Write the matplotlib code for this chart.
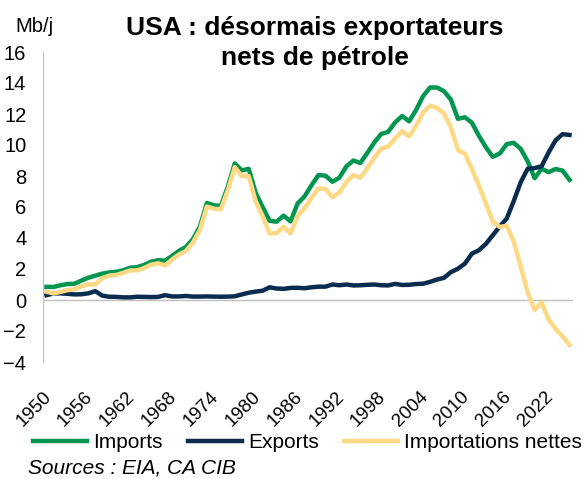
import matplotlib
matplotlib.use('Agg')
import matplotlib.pyplot as plt
import matplotlib.transforms as mtransforms
import numpy as np

## data (Mb/j) ##
years = list(range(1950, 2026))

imports = [0.85, 0.84, 0.95, 1.03, 1.05, 1.25, 1.44, 1.57, 1.70, 1.78,
           1.82, 1.92, 2.08, 2.12, 2.26, 2.47, 2.57, 2.54, 2.84, 3.17,
           3.42, 3.93, 4.74, 6.26, 6.11, 6.06, 7.31, 8.81, 8.36, 8.46,
           6.91, 6.00, 5.11, 5.05, 5.44, 5.07, 6.22, 6.68, 7.40, 8.06,
           8.02, 7.63, 7.89, 8.62, 9.00, 8.84, 9.48, 10.16, 10.71, 10.85,
           11.46, 11.87, 11.53, 12.26, 13.15, 13.71, 13.71, 13.47, 12.92, 11.69,
           11.79, 11.44, 10.60, 9.86, 9.24, 9.45, 10.06, 10.14, 9.75, 8.95,
           7.86, 8.47, 8.25, 8.45, 8.35, 7.75]

exports = [0.31, 0.42, 0.43, 0.40, 0.36, 0.37, 0.43, 0.57, 0.28, 0.21,
           0.20, 0.17, 0.17, 0.21, 0.20, 0.19, 0.20, 0.31, 0.23, 0.23,
           0.26, 0.22, 0.22, 0.23, 0.22, 0.21, 0.22, 0.24, 0.36, 0.47,
           0.54, 0.60, 0.82, 0.74, 0.72, 0.78, 0.79, 0.76, 0.82, 0.86,
           0.86, 1.00, 0.95, 1.00, 0.94, 0.95, 0.98, 1.00, 0.95, 0.94,
           1.04, 0.97, 0.98, 1.03, 1.05, 1.17, 1.32, 1.43, 1.80, 2.02,
           2.35, 2.99, 3.21, 3.62, 4.18, 4.74, 5.26, 6.38, 7.60, 8.47,
           8.51, 8.63, 9.52, 10.30, 10.70, 10.65]

net_imports = [0.54, 0.42, 0.52, 0.63, 0.69, 0.88, 1.01, 1.00, 1.42, 1.57,
               1.62, 1.75, 1.91, 1.91, 2.06, 2.28, 2.37, 2.23, 2.61, 2.94,
               3.16, 3.71, 4.52, 6.03, 5.89, 5.85, 7.09, 8.57, 8.00, 7.99,
               6.37, 5.40, 4.29, 4.31, 4.72, 4.29, 5.43, 5.92, 6.58, 7.20,
               7.16, 6.63, 6.94, 7.62, 8.06, 7.89, 8.50, 9.16, 9.76, 9.91,
               10.42, 10.90, 10.55, 11.23, 12.10, 12.54, 12.39, 12.04, 11.12, 9.67,
               9.44, 8.45, 7.39, 6.24, 5.06, 4.71, 4.80, 3.76, 2.15, 0.48,
               -0.65, -0.16, -1.27, -1.85, -2.35, -2.90]

series_labels = ['Imports', 'Exports', 'Importations nettes']
colors = ['#00964f', '#0a2c4f', '#fdd985']

## figure ##
plt.rcParams['font.family'] = ['Liberation Sans', 'DejaVu Sans']
fig = plt.figure(figsize=(5.86, 4.79), dpi=100)
ax = fig.add_axes([43/586, 1 - 362/479, 530/586, 310/479])

x = np.arange(len(years))
for vals, lab, col in zip([imports, exports, net_imports], series_labels, colors):
    ax.plot(x, vals, color=col, lw=3.2, label=lab, solid_joinstyle='round')

ax.axhline(0, color='#bfbfbf', lw=1, zorder=0)
ax.set_xlim(-0.5, len(years) - 0.5)
ax.set_ylim(-4, 16)
ax.set_yticks(np.arange(-4, 17, 2))
tick_idx = list(range(0, len(years), 6))
ax.set_xticks(tick_idx)
ax.set_xticklabels([str(years[i]) for i in tick_idx], rotation=45, ha='right',
                   rotation_mode='anchor')
ax.tick_params(axis='both', length=0)
ax.tick_params(axis='y', pad=12, labelsize=14.5)
ax.tick_params(axis='x', pad=19, labelsize=13.5)
# nudge rotated labels slightly left
shift = mtransforms.ScaledTranslation(-4/100, 0, fig.dpi_scale_trans)
for lbl in ax.get_xticklabels():
    lbl.set_transform(lbl.get_transform() + shift)
for s in ['top', 'right', 'bottom']:
    ax.spines[s].set_visible(False)
ax.spines['left'].set_color('#bfbfbf')

## texts ##
fig.text(15/586, 1 - 32/479, 'Mb/j', fontsize=14.5, va='baseline', ha='left')
fig.text(315/586, 1 - 35/479, 'USA : désormais exportateurs', fontsize=19,
         fontweight='bold', ha='center', va='baseline')
fig.text(315/586, 1 - 65/479, 'nets de pétrole', fontsize=19,
         fontweight='bold', ha='center', va='baseline')
fig.legend(loc='center left', bbox_to_anchor=(33/586, 1 - 443/479), ncol=3,
           frameon=False, fontsize=15, handlelength=2.6, handletextpad=0.3,
           columnspacing=1.2, borderpad=0, borderaxespad=0)
fig.text(28/586, 1 - 468/479, 'Sources : EIA, CA CIB', fontsize=15,
         style='italic', va='center', ha='left')

fig.savefig('out.png', dpi=100)
